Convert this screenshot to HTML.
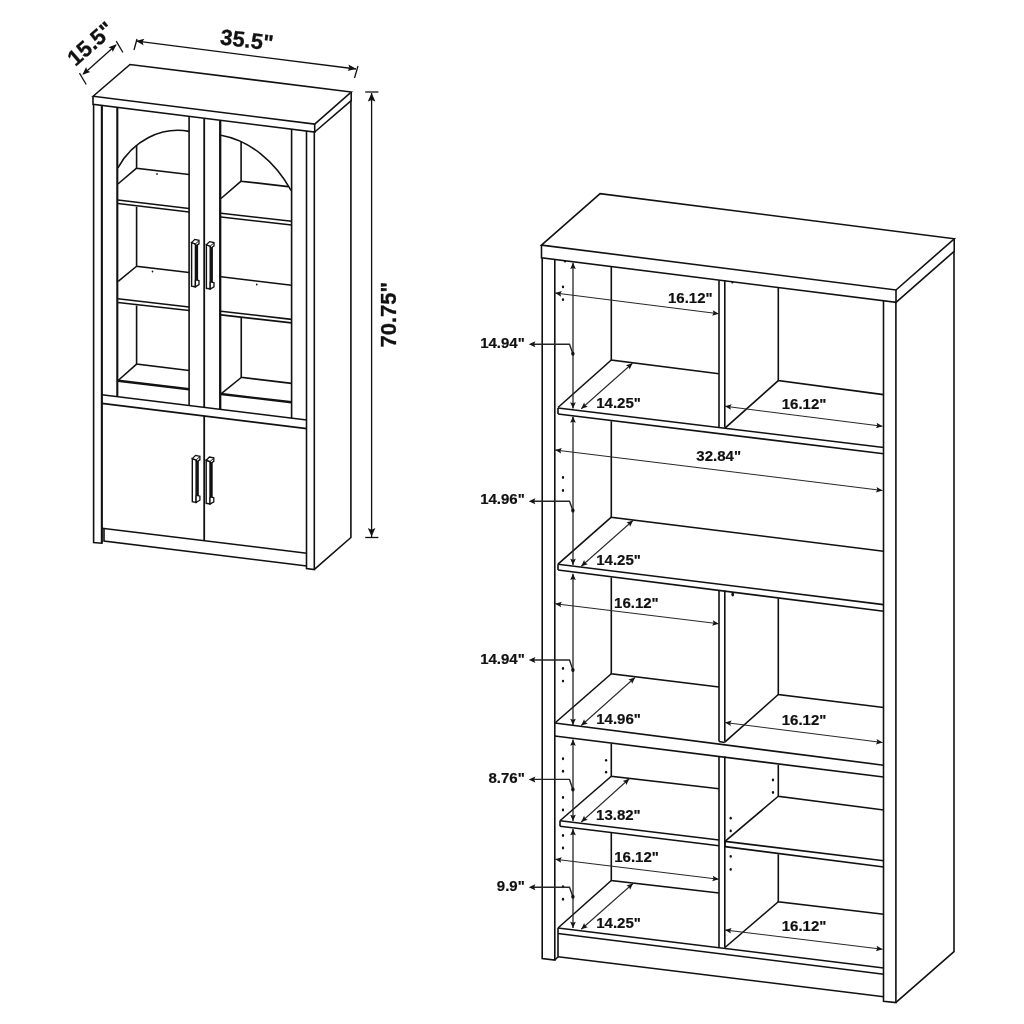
<!DOCTYPE html>
<html><head><meta charset="utf-8"><style>
html,body{margin:0;padding:0;background:#fff;}
svg{display:block;filter:grayscale(1);}
text{font-family:"Liberation Sans",sans-serif;}
</style></head><body>
<svg width="1024" height="1024" viewBox="0 0 1024 1024">
<rect width="1024" height="1024" fill="#fff"/>
<polygon points="93.10,96.25 130.00,64.50 351.20,92.00 314.70,124.10" fill="none" stroke="#111" stroke-width="1.6" stroke-linejoin="miter"/>
<polyline points="93.00,96.25 93.00,104.40 314.70,132.00 314.70,124.10" fill="none" stroke="#111" stroke-width="1.6" stroke-linejoin="miter" stroke-linecap="butt"/>
<polyline points="351.20,92.00 351.20,100.60 314.70,132.00" fill="none" stroke="#111" stroke-width="1.6" stroke-linejoin="miter" stroke-linecap="butt"/>
<polyline points="350.90,100.60 350.90,537.50 314.40,569.40" fill="none" stroke="#111" stroke-width="1.6" stroke-linejoin="miter" stroke-linecap="butt"/>
<polyline points="93.60,104.40 93.60,542.60 101.80,543.20 101.80,105.40" fill="none" stroke="#111" stroke-width="1.6" stroke-linejoin="miter" stroke-linecap="butt"/>
<polyline points="101.80,105.40 101.80,543.20" fill="none" stroke="#111" stroke-width="2.0" stroke-linejoin="miter" stroke-linecap="butt"/>
<polyline points="306.50,130.98 306.50,568.60 314.30,569.60 314.30,132.00" fill="none" stroke="#111" stroke-width="1.6" stroke-linejoin="miter" stroke-linecap="butt"/>
<polyline points="117.30,107.43 117.30,396.71" fill="none" stroke="#111" stroke-width="2.1" stroke-linejoin="miter" stroke-linecap="butt"/>
<polyline points="189.10,116.36 189.10,405.53" fill="none" stroke="#111" stroke-width="1.6" stroke-linejoin="miter" stroke-linecap="butt"/>
<polyline points="204.20,118.24 204.20,407.39" fill="none" stroke="#111" stroke-width="1.8" stroke-linejoin="miter" stroke-linecap="butt"/>
<polyline points="220.20,120.24 220.20,409.35" fill="none" stroke="#111" stroke-width="2.3" stroke-linejoin="miter" stroke-linecap="butt"/>
<polyline points="291.60,129.12 291.60,418.13" fill="none" stroke="#111" stroke-width="1.6" stroke-linejoin="miter" stroke-linecap="butt"/>
<polyline points="101.80,394.80 306.80,420.00" fill="none" stroke="#111" stroke-width="1.6" stroke-linejoin="miter" stroke-linecap="butt"/>
<polyline points="101.80,403.40 306.80,428.60" fill="none" stroke="#111" stroke-width="1.6" stroke-linejoin="miter" stroke-linecap="butt"/>
<polyline points="204.20,415.99 204.20,540.73" fill="none" stroke="#111" stroke-width="1.8" stroke-linejoin="miter" stroke-linecap="butt"/>
<polyline points="102.00,528.30 306.80,553.20" fill="none" stroke="#111" stroke-width="1.6" stroke-linejoin="miter" stroke-linecap="butt"/>
<polyline points="104.00,528.54 104.00,541.00 306.80,566.00" fill="none" stroke="#111" stroke-width="1.6" stroke-linejoin="miter" stroke-linecap="butt"/>
<path d="M117.9,167.85 A70.7,79.3 0 0 1 189.1,131.35" fill="none" stroke="#111" stroke-width="1.6"/>
<polyline points="136.60,145.40 136.60,168.20 189.10,174.50" fill="none" stroke="#111" stroke-width="1.6" stroke-linejoin="miter" stroke-linecap="butt"/>
<polyline points="136.60,168.20 117.90,184.00" fill="none" stroke="#111" stroke-width="1.6" stroke-linejoin="miter" stroke-linecap="butt"/>
<ellipse cx="157.00" cy="174.00" rx="0.8" ry="0.96" fill="#111"/>
<polyline points="117.90,200.00 189.10,208.50" fill="none" stroke="#111" stroke-width="1.6" stroke-linejoin="miter" stroke-linecap="butt"/>
<polyline points="117.90,203.50 189.10,212.00" fill="none" stroke="#111" stroke-width="1.6" stroke-linejoin="miter" stroke-linecap="butt"/>
<polyline points="136.60,206.80 136.60,266.25 189.10,272.50" fill="none" stroke="#111" stroke-width="1.6" stroke-linejoin="miter" stroke-linecap="butt"/>
<polyline points="136.60,266.25 118.20,281.30" fill="none" stroke="#111" stroke-width="1.6" stroke-linejoin="miter" stroke-linecap="butt"/>
<ellipse cx="152.50" cy="271.50" rx="0.8" ry="0.96" fill="#111"/>
<polyline points="117.90,298.75 189.10,307.00" fill="none" stroke="#111" stroke-width="1.6" stroke-linejoin="miter" stroke-linecap="butt"/>
<polyline points="117.90,302.50 189.10,310.50" fill="none" stroke="#111" stroke-width="1.6" stroke-linejoin="miter" stroke-linecap="butt"/>
<polyline points="136.60,305.50 136.60,364.10 189.10,370.50" fill="none" stroke="#111" stroke-width="1.6" stroke-linejoin="miter" stroke-linecap="butt"/>
<polyline points="136.60,364.10 118.10,380.50" fill="none" stroke="#111" stroke-width="1.6" stroke-linejoin="miter" stroke-linecap="butt"/>
<polyline points="118.10,380.80 189.10,389.30" fill="none" stroke="#111" stroke-width="2.4" stroke-linejoin="miter" stroke-linecap="butt"/>
<path d="M221.0,135.23 A104.56,137.07 0 0 1 291.2,190.64" fill="none" stroke="#111" stroke-width="1.6"/>
<polyline points="241.10,141.60 241.10,181.20 288.20,186.60" fill="none" stroke="#111" stroke-width="1.6" stroke-linejoin="miter" stroke-linecap="butt"/>
<polyline points="241.10,181.20 221.00,198.50" fill="none" stroke="#111" stroke-width="1.6" stroke-linejoin="miter" stroke-linecap="butt"/>
<polyline points="221.00,213.20 291.60,221.25" fill="none" stroke="#111" stroke-width="1.6" stroke-linejoin="miter" stroke-linecap="butt"/>
<polyline points="221.00,217.00 291.60,225.00" fill="none" stroke="#111" stroke-width="1.6" stroke-linejoin="miter" stroke-linecap="butt"/>
<polyline points="221.00,276.80 291.60,285.30" fill="none" stroke="#111" stroke-width="1.6" stroke-linejoin="miter" stroke-linecap="butt"/>
<ellipse cx="256.75" cy="284.50" rx="0.8" ry="0.96" fill="#111"/>
<polyline points="221.00,311.20 291.60,319.40" fill="none" stroke="#111" stroke-width="1.6" stroke-linejoin="miter" stroke-linecap="butt"/>
<polyline points="221.00,314.90 291.60,322.90" fill="none" stroke="#111" stroke-width="1.6" stroke-linejoin="miter" stroke-linecap="butt"/>
<polyline points="241.25,317.50 241.25,377.40 291.60,383.40" fill="none" stroke="#111" stroke-width="1.6" stroke-linejoin="miter" stroke-linecap="butt"/>
<polyline points="241.25,377.50 221.00,393.80" fill="none" stroke="#111" stroke-width="1.6" stroke-linejoin="miter" stroke-linecap="butt"/>
<polyline points="221.00,394.00 291.60,402.30" fill="none" stroke="#111" stroke-width="2.4" stroke-linejoin="miter" stroke-linecap="butt"/>
<rect x="195.40" y="244.40" width="2.7" height="36.90" fill="#111"/>
<polygon points="191.60,242.60 195.40,244.00 195.40,286.80 191.60,286.10" fill="#fff" stroke="#111" stroke-width="1.4" stroke-linejoin="miter"/>
<polygon points="191.60,242.60 194.80,239.40 199.00,240.30 199.00,243.80 196.00,245.80 195.40,244.00" fill="#fff" stroke="#111" stroke-width="1.3" stroke-linejoin="miter"/>
<polyline points="195.40,244.00 199.00,240.60" fill="none" stroke="#111" stroke-width="1.0" stroke-linejoin="miter" stroke-linecap="butt"/>
<polygon points="195.40,280.40 196.60,279.80 199.00,280.60 199.00,284.60 195.40,286.80" fill="#fff" stroke="#111" stroke-width="1.3" stroke-linejoin="miter"/>
<rect x="210.20" y="246.60" width="2.7" height="36.90" fill="#111"/>
<polygon points="206.40,244.80 210.20,246.20 210.20,289.00 206.40,288.30" fill="#fff" stroke="#111" stroke-width="1.4" stroke-linejoin="miter"/>
<polygon points="206.40,244.80 209.60,241.60 214.00,242.50 214.00,246.00 210.80,248.00 210.20,246.20" fill="#fff" stroke="#111" stroke-width="1.3" stroke-linejoin="miter"/>
<polyline points="210.20,246.20 214.00,242.80" fill="none" stroke="#111" stroke-width="1.0" stroke-linejoin="miter" stroke-linecap="butt"/>
<polygon points="210.20,282.60 211.40,282.00 214.00,282.80 214.00,286.80 210.20,289.00" fill="#fff" stroke="#111" stroke-width="1.3" stroke-linejoin="miter"/>
<rect x="196.10" y="460.40" width="2.7" height="36.50" fill="#111"/>
<polygon points="192.30,458.60 196.10,460.00 196.10,502.40 192.30,501.70" fill="#fff" stroke="#111" stroke-width="1.4" stroke-linejoin="miter"/>
<polygon points="192.30,458.60 195.50,455.40 199.90,456.30 199.90,459.80 196.70,461.80 196.10,460.00" fill="#fff" stroke="#111" stroke-width="1.3" stroke-linejoin="miter"/>
<polyline points="196.10,460.00 199.90,456.60" fill="none" stroke="#111" stroke-width="1.0" stroke-linejoin="miter" stroke-linecap="butt"/>
<polygon points="196.10,496.00 197.30,495.40 199.90,496.20 199.90,500.20 196.10,502.40" fill="#fff" stroke="#111" stroke-width="1.3" stroke-linejoin="miter"/>
<rect x="210.00" y="462.00" width="2.7" height="36.50" fill="#111"/>
<polygon points="206.20,460.20 210.00,461.60 210.00,504.00 206.20,503.30" fill="#fff" stroke="#111" stroke-width="1.4" stroke-linejoin="miter"/>
<polygon points="206.20,460.20 209.40,457.00 213.80,457.90 213.80,461.40 210.60,463.40 210.00,461.60" fill="#fff" stroke="#111" stroke-width="1.3" stroke-linejoin="miter"/>
<polyline points="210.00,461.60 213.80,458.20" fill="none" stroke="#111" stroke-width="1.0" stroke-linejoin="miter" stroke-linecap="butt"/>
<polygon points="210.00,497.60 211.20,497.00 213.80,497.80 213.80,501.80 210.00,504.00" fill="#fff" stroke="#111" stroke-width="1.3" stroke-linejoin="miter"/>
<polyline points="79.50,73.20 86.20,84.50" fill="none" stroke="#111" stroke-width="1.3" stroke-linejoin="miter" stroke-linecap="butt"/>
<polyline points="116.25,41.20 122.90,52.50" fill="none" stroke="#111" stroke-width="1.3" stroke-linejoin="miter" stroke-linecap="butt"/>
<line x1="83.5" y1="74.0" x2="116.0" y2="45.0" stroke="#111" stroke-width="1.3"/>
<polygon points="82.30,74.80 86.15,67.09 87.20,70.44 90.40,71.88" fill="#111"/>
<polygon points="116.60,44.30 112.75,52.01 111.70,48.66 108.50,47.22" fill="#111"/>
<text x="95.50" y="49.30" font-size="22" text-anchor="middle" font-weight="bold" fill="#111" stroke="#111" stroke-width="0.3" transform="rotate(-41.5 95.50 49.30)">15.5"</text>
<polyline points="134.00,50.00 137.00,39.00" fill="none" stroke="#111" stroke-width="1.3" stroke-linejoin="miter" stroke-linecap="butt"/>
<polyline points="354.50,78.00 358.00,66.00" fill="none" stroke="#111" stroke-width="1.3" stroke-linejoin="miter" stroke-linecap="butt"/>
<line x1="137" y1="41.2" x2="356" y2="69" stroke="#111" stroke-width="1.3"/>
<polygon points="136.00,41.00 144.34,38.83 142.51,41.82 143.54,45.18" fill="#111"/>
<polygon points="356.00,68.80 347.66,70.97 349.49,67.98 348.46,64.62" fill="#111"/>
<text x="246.00" y="47.50" font-size="22" text-anchor="middle" font-weight="bold" fill="#111" stroke="#111" stroke-width="0.3" transform="rotate(7.1 246.00 47.50)">35.5"</text>
<polyline points="365.20,92.00 378.40,92.00" fill="none" stroke="#111" stroke-width="1.3" stroke-linejoin="miter" stroke-linecap="butt"/>
<polyline points="365.20,537.50 378.40,537.50" fill="none" stroke="#111" stroke-width="1.3" stroke-linejoin="miter" stroke-linecap="butt"/>
<line x1="371.6" y1="93" x2="371.6" y2="537" stroke="#111" stroke-width="1.3"/>
<polygon points="371.60,93.00 375.40,101.50 371.60,99.97 367.80,101.50" fill="#111"/>
<polygon points="371.60,536.60 367.80,528.10 371.60,529.63 375.40,528.10" fill="#111"/>
<text x="396.00" y="314.80" font-size="22" text-anchor="middle" font-weight="bold" fill="#111" stroke="#111" stroke-width="0.3" transform="rotate(-90 396.00 314.80)">70.75"</text>
<polygon points="541.50,245.10 600.10,193.60 954.30,238.75 896.00,290.00" fill="none" stroke="#111" stroke-width="1.6" stroke-linejoin="miter"/>
<polyline points="541.50,245.10 541.50,257.75 896.00,302.30 896.00,290.00" fill="none" stroke="#111" stroke-width="1.6" stroke-linejoin="miter" stroke-linecap="butt"/>
<polyline points="954.20,238.75 954.20,251.30 896.00,302.30" fill="none" stroke="#111" stroke-width="1.6" stroke-linejoin="miter" stroke-linecap="butt"/>
<polyline points="954.00,251.30 954.00,951.60 896.00,1002.40" fill="none" stroke="#111" stroke-width="1.6" stroke-linejoin="miter" stroke-linecap="butt"/>
<polyline points="883.50,300.73 883.50,1001.20 895.90,1002.60 895.90,302.30" fill="none" stroke="#111" stroke-width="1.6" stroke-linejoin="miter" stroke-linecap="butt"/>
<polyline points="542.20,257.75 542.20,958.60 554.80,960.00 554.80,259.42" fill="none" stroke="#111" stroke-width="1.6" stroke-linejoin="miter" stroke-linecap="butt"/>
<polyline points="554.80,960.00 558.10,956.70" fill="none" stroke="#111" stroke-width="1.6" stroke-linejoin="miter" stroke-linecap="butt"/>
<polyline points="558.00,408.00 883.75,447.50" fill="none" stroke="#111" stroke-width="1.6" stroke-linejoin="miter" stroke-linecap="butt"/>
<polyline points="558.00,414.00 883.75,453.75" fill="none" stroke="#111" stroke-width="1.6" stroke-linejoin="miter" stroke-linecap="butt"/>
<polyline points="558.00,564.20 883.50,604.60" fill="none" stroke="#111" stroke-width="1.6" stroke-linejoin="miter" stroke-linecap="butt"/>
<polyline points="558.00,570.00 883.75,611.25" fill="none" stroke="#111" stroke-width="1.6" stroke-linejoin="miter" stroke-linecap="butt"/>
<polyline points="554.80,723.00 883.50,765.20" fill="none" stroke="#111" stroke-width="1.6" stroke-linejoin="miter" stroke-linecap="butt"/>
<polyline points="554.80,736.00 883.50,777.00" fill="none" stroke="#111" stroke-width="1.6" stroke-linejoin="miter" stroke-linecap="butt"/>
<polyline points="560.00,820.75 719.00,840.00" fill="none" stroke="#111" stroke-width="1.6" stroke-linejoin="miter" stroke-linecap="butt"/>
<polyline points="560.00,826.25 719.00,845.75" fill="none" stroke="#111" stroke-width="1.6" stroke-linejoin="miter" stroke-linecap="butt"/>
<polyline points="725.00,841.40 883.75,860.80" fill="none" stroke="#111" stroke-width="1.6" stroke-linejoin="miter" stroke-linecap="butt"/>
<polyline points="725.00,846.60 883.75,867.00" fill="none" stroke="#111" stroke-width="1.6" stroke-linejoin="miter" stroke-linecap="butt"/>
<polyline points="558.00,928.00 883.75,968.00" fill="none" stroke="#111" stroke-width="1.6" stroke-linejoin="miter" stroke-linecap="butt"/>
<polyline points="558.00,933.50 883.75,974.25" fill="none" stroke="#111" stroke-width="1.6" stroke-linejoin="miter" stroke-linecap="butt"/>
<polyline points="558.00,956.75 883.75,996.75" fill="none" stroke="#111" stroke-width="1.6" stroke-linejoin="miter" stroke-linecap="butt"/>
<polyline points="558.00,408.00 558.00,414.00" fill="none" stroke="#111" stroke-width="1.6" stroke-linejoin="miter" stroke-linecap="butt"/>
<polyline points="558.00,564.20 558.00,570.00" fill="none" stroke="#111" stroke-width="1.6" stroke-linejoin="miter" stroke-linecap="butt"/>
<polyline points="560.00,820.75 560.00,826.25" fill="none" stroke="#111" stroke-width="1.6" stroke-linejoin="miter" stroke-linecap="butt"/>
<polyline points="725.00,841.40 725.00,846.60" fill="none" stroke="#111" stroke-width="1.6" stroke-linejoin="miter" stroke-linecap="butt"/>
<polyline points="558.00,928.00 558.00,956.75" fill="none" stroke="#111" stroke-width="1.6" stroke-linejoin="miter" stroke-linecap="butt"/>
<polyline points="719.00,280.06 719.00,427.52" fill="none" stroke="#111" stroke-width="1.6" stroke-linejoin="miter" stroke-linecap="butt"/>
<polyline points="724.80,280.06 724.80,427.52" fill="none" stroke="#111" stroke-width="1.6" stroke-linejoin="miter" stroke-linecap="butt"/>
<polyline points="719.00,590.39 719.00,741.60" fill="none" stroke="#111" stroke-width="1.6" stroke-linejoin="miter" stroke-linecap="butt"/>
<polyline points="724.80,590.39 724.80,741.60" fill="none" stroke="#111" stroke-width="1.6" stroke-linejoin="miter" stroke-linecap="butt"/>
<polyline points="719.00,741.40 724.80,742.40" fill="none" stroke="#111" stroke-width="1.5" stroke-linejoin="miter" stroke-linecap="butt"/>
<polyline points="719.00,756.48 719.00,947.77" fill="none" stroke="#111" stroke-width="1.6" stroke-linejoin="miter" stroke-linecap="butt"/>
<polyline points="724.80,756.48 724.80,947.77" fill="none" stroke="#111" stroke-width="1.6" stroke-linejoin="miter" stroke-linecap="butt"/>
<polyline points="611.30,266.52 611.30,360.00 719.00,373.75" fill="none" stroke="#111" stroke-width="1.6" stroke-linejoin="miter" stroke-linecap="butt"/>
<polyline points="611.30,360.00 558.00,407.50" fill="none" stroke="#111" stroke-width="1.6" stroke-linejoin="miter" stroke-linecap="butt"/>
<polyline points="778.30,287.51 778.30,380.60 883.50,394.60" fill="none" stroke="#111" stroke-width="1.6" stroke-linejoin="miter" stroke-linecap="butt"/>
<polyline points="778.30,380.60 725.00,428.20" fill="none" stroke="#111" stroke-width="1.6" stroke-linejoin="miter" stroke-linecap="butt"/>
<polyline points="611.30,421.25 611.30,517.20 883.50,551.20" fill="none" stroke="#111" stroke-width="1.6" stroke-linejoin="miter" stroke-linecap="butt"/>
<polyline points="611.30,517.20 558.00,564.20" fill="none" stroke="#111" stroke-width="1.6" stroke-linejoin="miter" stroke-linecap="butt"/>
<polyline points="611.30,577.50 611.30,673.75 719.00,687.00" fill="none" stroke="#111" stroke-width="1.6" stroke-linejoin="miter" stroke-linecap="butt"/>
<polyline points="611.30,673.75 555.50,722.50" fill="none" stroke="#111" stroke-width="1.6" stroke-linejoin="miter" stroke-linecap="butt"/>
<polyline points="778.30,598.40 778.30,694.50 883.75,707.50" fill="none" stroke="#111" stroke-width="1.6" stroke-linejoin="miter" stroke-linecap="butt"/>
<polyline points="778.30,694.50 724.80,742.20" fill="none" stroke="#111" stroke-width="1.6" stroke-linejoin="miter" stroke-linecap="butt"/>
<polyline points="611.30,743.75 611.30,776.25 719.00,788.75" fill="none" stroke="#111" stroke-width="1.6" stroke-linejoin="miter" stroke-linecap="butt"/>
<polyline points="611.30,776.25 560.00,820.75" fill="none" stroke="#111" stroke-width="1.6" stroke-linejoin="miter" stroke-linecap="butt"/>
<polyline points="778.30,765.00 778.30,796.25 883.75,810.00" fill="none" stroke="#111" stroke-width="1.6" stroke-linejoin="miter" stroke-linecap="butt"/>
<polyline points="778.30,796.25 725.00,841.40" fill="none" stroke="#111" stroke-width="1.6" stroke-linejoin="miter" stroke-linecap="butt"/>
<polyline points="611.30,833.00 611.30,880.50 719.00,893.00" fill="none" stroke="#111" stroke-width="1.6" stroke-linejoin="miter" stroke-linecap="butt"/>
<polyline points="611.30,880.50 558.00,928.00" fill="none" stroke="#111" stroke-width="1.6" stroke-linejoin="miter" stroke-linecap="butt"/>
<polyline points="778.30,854.25 778.30,901.75 883.75,914.25" fill="none" stroke="#111" stroke-width="1.6" stroke-linejoin="miter" stroke-linecap="butt"/>
<polyline points="778.30,901.75 725.00,947.50" fill="none" stroke="#111" stroke-width="1.6" stroke-linejoin="miter" stroke-linecap="butt"/>
<ellipse cx="563.00" cy="286.90" rx="1.15" ry="1.38" fill="#111"/>
<ellipse cx="563.00" cy="299.70" rx="1.15" ry="1.38" fill="#111"/>
<ellipse cx="563.00" cy="477.50" rx="1.15" ry="1.38" fill="#111"/>
<ellipse cx="563.00" cy="490.50" rx="1.15" ry="1.38" fill="#111"/>
<ellipse cx="563.00" cy="668.50" rx="1.15" ry="1.38" fill="#111"/>
<ellipse cx="563.00" cy="681.10" rx="1.15" ry="1.38" fill="#111"/>
<ellipse cx="563.00" cy="758.75" rx="1.15" ry="1.38" fill="#111"/>
<ellipse cx="563.00" cy="771.25" rx="1.15" ry="1.38" fill="#111"/>
<ellipse cx="563.00" cy="797.50" rx="1.15" ry="1.38" fill="#111"/>
<ellipse cx="563.00" cy="810.00" rx="1.15" ry="1.38" fill="#111"/>
<ellipse cx="563.00" cy="835.50" rx="1.15" ry="1.38" fill="#111"/>
<ellipse cx="563.00" cy="848.00" rx="1.15" ry="1.38" fill="#111"/>
<ellipse cx="563.00" cy="886.75" rx="1.15" ry="1.38" fill="#111"/>
<ellipse cx="563.00" cy="899.25" rx="1.15" ry="1.38" fill="#111"/>
<ellipse cx="606.10" cy="760.30" rx="1.15" ry="1.38" fill="#111"/>
<ellipse cx="606.10" cy="772.20" rx="1.15" ry="1.38" fill="#111"/>
<ellipse cx="773.00" cy="780.00" rx="1.15" ry="1.38" fill="#111"/>
<ellipse cx="773.00" cy="792.50" rx="1.15" ry="1.38" fill="#111"/>
<ellipse cx="730.70" cy="818.20" rx="1.15" ry="1.38" fill="#111"/>
<ellipse cx="730.70" cy="830.90" rx="1.15" ry="1.38" fill="#111"/>
<ellipse cx="730.70" cy="856.40" rx="1.15" ry="1.38" fill="#111"/>
<ellipse cx="730.70" cy="869.40" rx="1.15" ry="1.38" fill="#111"/>
<ellipse cx="732.7" cy="594.4" rx="1.35" ry="2.1" fill="#111"/>
<ellipse cx="565.0" cy="261.6" rx="1.2" ry="1.0" fill="#111"/>
<ellipse cx="732.4" cy="282.6" rx="1.1" ry="0.9" fill="#111"/>
<line x1="573.00" y1="262.80" x2="573.00" y2="408.50" stroke="#302626" stroke-width="1.3"/>
<polygon points="573.00,408.50 570.20,402.20 573.00,403.33 575.80,402.20" fill="#1a1414"/>
<polygon points="573.00,262.80 575.80,269.10 573.00,267.97 570.20,269.10" fill="#1a1414"/>
<line x1="573.00" y1="416.50" x2="573.00" y2="565.00" stroke="#302626" stroke-width="1.3"/>
<polygon points="573.00,565.00 570.20,558.70 573.00,559.83 575.80,558.70" fill="#1a1414"/>
<polygon points="573.00,416.50 575.80,422.80 573.00,421.67 570.20,422.80" fill="#1a1414"/>
<line x1="573.00" y1="573.75" x2="573.00" y2="725.00" stroke="#302626" stroke-width="1.3"/>
<polygon points="573.00,725.00 570.20,718.70 573.00,719.83 575.80,718.70" fill="#1a1414"/>
<polygon points="573.00,573.75 575.80,580.05 573.00,578.92 570.20,580.05" fill="#1a1414"/>
<line x1="573.00" y1="739.50" x2="573.00" y2="821.00" stroke="#302626" stroke-width="1.3"/>
<polygon points="573.00,821.00 570.20,814.70 573.00,815.83 575.80,814.70" fill="#1a1414"/>
<polygon points="573.00,739.50 575.80,745.80 573.00,744.67 570.20,745.80" fill="#1a1414"/>
<line x1="573.00" y1="829.00" x2="573.00" y2="928.00" stroke="#302626" stroke-width="1.3"/>
<polygon points="573.00,928.00 570.20,921.70 573.00,922.83 575.80,921.70" fill="#1a1414"/>
<polygon points="573.00,829.00 575.80,835.30 573.00,834.17 570.20,835.30" fill="#1a1414"/>
<line x1="555.20" y1="293.10" x2="718.75" y2="313.75" stroke="#302626" stroke-width="1.05"/>
<polygon points="718.75,313.75 712.15,315.74 713.62,313.10 712.85,310.18" fill="#1a1414"/>
<polygon points="555.20,293.10 561.80,291.11 560.33,293.75 561.10,296.67" fill="#1a1414"/>
<line x1="725.00" y1="406.25" x2="882.50" y2="426.25" stroke="#302626" stroke-width="1.05"/>
<polygon points="882.50,426.25 875.90,428.23 877.38,425.60 876.60,422.68" fill="#1a1414"/>
<polygon points="725.00,406.25 731.60,404.27 730.12,406.90 730.90,409.82" fill="#1a1414"/>
<line x1="555.20" y1="450.00" x2="882.50" y2="490.50" stroke="#302626" stroke-width="1.05"/>
<polygon points="882.50,490.50 875.90,492.51 877.37,489.87 876.59,486.95" fill="#1a1414"/>
<polygon points="555.20,450.00 561.80,447.99 560.33,450.63 561.11,453.55" fill="#1a1414"/>
<line x1="555.20" y1="603.75" x2="718.75" y2="623.75" stroke="#302626" stroke-width="1.05"/>
<polygon points="718.75,623.75 712.16,625.76 713.62,623.12 712.84,620.21" fill="#1a1414"/>
<polygon points="555.20,603.75 561.79,601.74 560.33,604.38 561.11,607.29" fill="#1a1414"/>
<line x1="725.00" y1="722.50" x2="882.50" y2="742.50" stroke="#302626" stroke-width="1.05"/>
<polygon points="882.50,742.50 875.90,744.48 877.38,741.85 876.60,738.93" fill="#1a1414"/>
<polygon points="725.00,722.50 731.60,720.52 730.12,723.15 730.90,726.07" fill="#1a1414"/>
<line x1="555.20" y1="859.25" x2="718.75" y2="879.25" stroke="#302626" stroke-width="1.05"/>
<polygon points="718.75,879.25 712.16,881.26 713.62,878.62 712.84,875.71" fill="#1a1414"/>
<polygon points="555.20,859.25 561.79,857.24 560.33,859.88 561.11,862.79" fill="#1a1414"/>
<line x1="725.00" y1="930.00" x2="882.50" y2="949.25" stroke="#302626" stroke-width="1.05"/>
<polygon points="882.50,949.25 875.91,951.27 877.37,948.62 876.59,945.71" fill="#1a1414"/>
<polygon points="725.00,930.00 731.59,927.98 730.13,930.63 730.91,933.54" fill="#1a1414"/>
<line x1="581.25" y1="408.75" x2="632.50" y2="363.25" stroke="#302626" stroke-width="1.05"/>
<polygon points="632.50,363.25 629.65,369.53 628.64,366.68 625.93,365.34" fill="#1a1414"/>
<polygon points="581.25,408.75 584.10,402.47 585.11,405.32 587.82,406.66" fill="#1a1414"/>
<line x1="581.25" y1="566.25" x2="633.00" y2="520.50" stroke="#302626" stroke-width="1.05"/>
<polygon points="633.00,520.50 630.13,526.77 629.13,523.92 626.43,522.57" fill="#1a1414"/>
<polygon points="581.25,566.25 584.12,559.98 585.12,562.83 587.82,564.18" fill="#1a1414"/>
<line x1="581.25" y1="725.50" x2="635.00" y2="677.50" stroke="#302626" stroke-width="1.05"/>
<polygon points="635.00,677.50 632.17,683.78 631.15,680.94 628.44,679.61" fill="#1a1414"/>
<polygon points="581.25,725.50 584.08,719.22 585.10,722.06 587.81,723.39" fill="#1a1414"/>
<line x1="581.25" y1="822.00" x2="629.25" y2="778.75" stroke="#302626" stroke-width="1.05"/>
<polygon points="629.25,778.75 626.44,785.05 625.41,782.21 622.70,780.89" fill="#1a1414"/>
<polygon points="581.25,822.00 584.06,815.70 585.09,818.54 587.80,819.86" fill="#1a1414"/>
<line x1="581.25" y1="929.25" x2="633.00" y2="883.50" stroke="#302626" stroke-width="1.05"/>
<polygon points="633.00,883.50 630.13,889.77 629.13,886.92 626.43,885.57" fill="#1a1414"/>
<polygon points="581.25,929.25 584.12,922.98 585.12,925.83 587.82,927.18" fill="#1a1414"/>
<polyline points="533,344.25 569.5,344.25 572.9,353.75" fill="none" stroke="#2a2424" stroke-width="1.4"/>
<polygon points="528.75,344.25 535.35,341.25 534.16,344.25 535.35,347.25" fill="#1a1414"/>
<ellipse cx="572.90" cy="353.75" rx="1.7" ry="2.04" fill="#111"/>
<polyline points="533,501.2 569.5,501.2 572.9,510.6" fill="none" stroke="#2a2424" stroke-width="1.4"/>
<polygon points="528.75,501.20 535.35,498.20 534.16,501.20 535.35,504.20" fill="#1a1414"/>
<ellipse cx="572.90" cy="510.60" rx="1.7" ry="2.04" fill="#111"/>
<polyline points="533,660.0 569.5,660.0 572.9,670.0" fill="none" stroke="#2a2424" stroke-width="1.4"/>
<polygon points="528.75,660.00 535.35,657.00 534.16,660.00 535.35,663.00" fill="#1a1414"/>
<ellipse cx="572.90" cy="670.00" rx="1.7" ry="2.04" fill="#111"/>
<polyline points="533,779.4 569.5,779.4 572.9,789.4" fill="none" stroke="#2a2424" stroke-width="1.4"/>
<polygon points="528.75,779.40 535.35,776.40 534.16,779.40 535.35,782.40" fill="#1a1414"/>
<ellipse cx="572.90" cy="789.40" rx="1.7" ry="2.04" fill="#111"/>
<polyline points="533,887.25 569.5,887.25 572.9,896.75" fill="none" stroke="#2a2424" stroke-width="1.4"/>
<polygon points="528.75,887.25 535.35,884.25 534.16,887.25 535.35,890.25" fill="#1a1414"/>
<ellipse cx="572.90" cy="896.75" rx="1.7" ry="2.04" fill="#111"/>
<text x="524.80" y="347.60" font-size="15" text-anchor="end" font-weight="bold" fill="#111" stroke="#111" stroke-width="0.2">14.94"</text>
<text x="524.80" y="504.40" font-size="15" text-anchor="end" font-weight="bold" fill="#111" stroke="#111" stroke-width="0.2">14.96"</text>
<text x="524.80" y="663.70" font-size="15" text-anchor="end" font-weight="bold" fill="#111" stroke="#111" stroke-width="0.2">14.94"</text>
<text x="524.80" y="783.20" font-size="15" text-anchor="end" font-weight="bold" fill="#111" stroke="#111" stroke-width="0.2">8.76"</text>
<text x="524.80" y="890.90" font-size="15" text-anchor="end" font-weight="bold" fill="#111" stroke="#111" stroke-width="0.2">9.9"</text>
<text x="690.30" y="303.00" font-size="15" text-anchor="middle" font-weight="bold" fill="#111" stroke="#111" stroke-width="0.2">16.12"</text>
<text x="618.55" y="407.70" font-size="15" text-anchor="middle" font-weight="bold" fill="#111" stroke="#111" stroke-width="0.2">14.25"</text>
<text x="804.10" y="409.20" font-size="15" text-anchor="middle" font-weight="bold" fill="#111" stroke="#111" stroke-width="0.2">16.12"</text>
<text x="718.70" y="461.20" font-size="15" text-anchor="middle" font-weight="bold" fill="#111" stroke="#111" stroke-width="0.2">32.84"</text>
<text x="618.55" y="564.60" font-size="15" text-anchor="middle" font-weight="bold" fill="#111" stroke="#111" stroke-width="0.2">14.25"</text>
<text x="636.40" y="607.50" font-size="15" text-anchor="middle" font-weight="bold" fill="#111" stroke="#111" stroke-width="0.2">16.12"</text>
<text x="618.55" y="723.50" font-size="15" text-anchor="middle" font-weight="bold" fill="#111" stroke="#111" stroke-width="0.2">14.96"</text>
<text x="804.10" y="724.60" font-size="15" text-anchor="middle" font-weight="bold" fill="#111" stroke="#111" stroke-width="0.2">16.12"</text>
<text x="618.40" y="820.30" font-size="15" text-anchor="middle" font-weight="bold" fill="#111" stroke="#111" stroke-width="0.2">13.82"</text>
<text x="636.55" y="861.50" font-size="15" text-anchor="middle" font-weight="bold" fill="#111" stroke="#111" stroke-width="0.2">16.12"</text>
<text x="618.55" y="927.70" font-size="15" text-anchor="middle" font-weight="bold" fill="#111" stroke="#111" stroke-width="0.2">14.25"</text>
<text x="804.10" y="931.20" font-size="15" text-anchor="middle" font-weight="bold" fill="#111" stroke="#111" stroke-width="0.2">16.12"</text>
</svg>
</body></html>
